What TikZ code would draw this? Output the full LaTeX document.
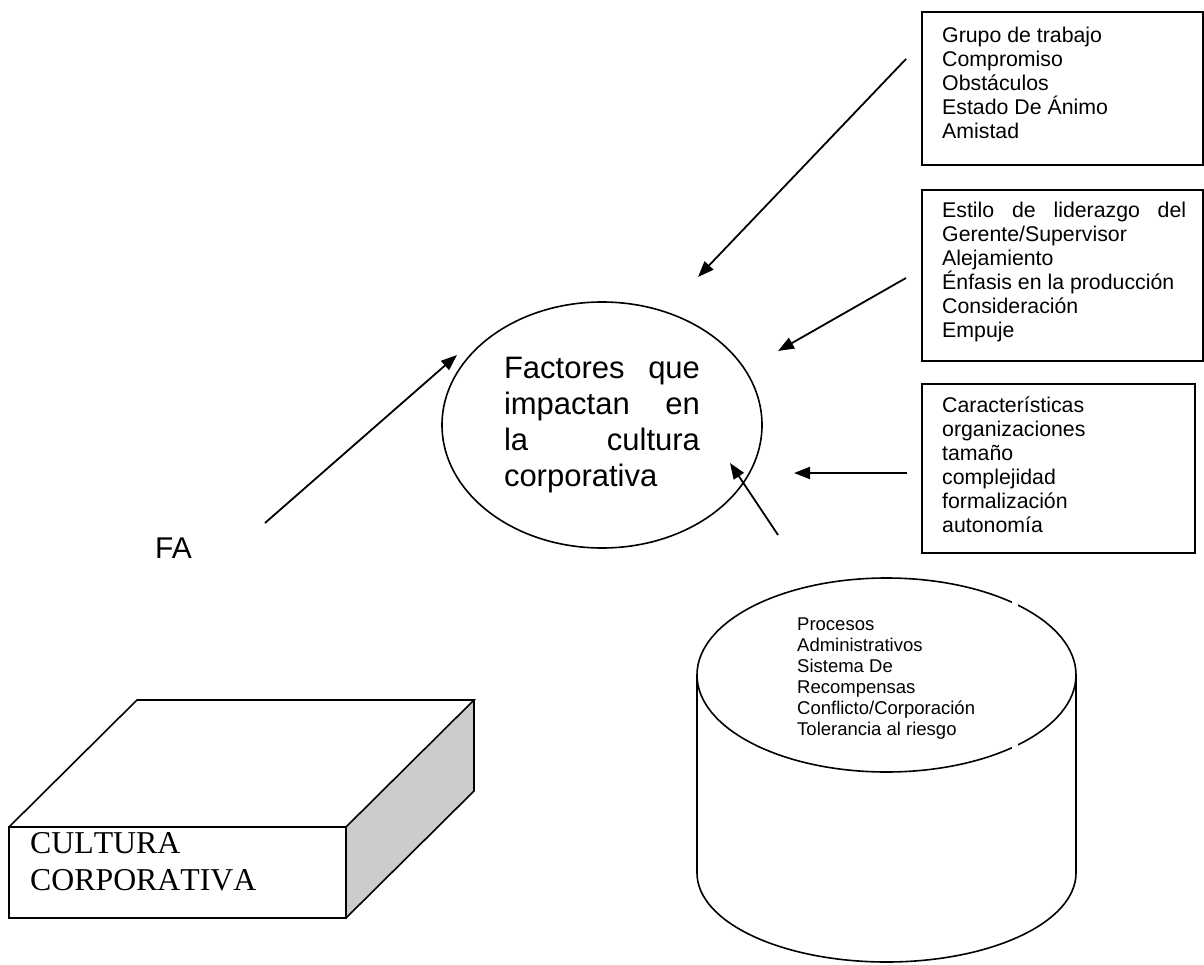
\documentclass[tikz,border=0pt]{standalone}
\usepackage{fontspec}
\setmainfont{Liberation Sans}
\newfontfamily\timesfont[Kerning=Off]{Liberation Serif}
\usetikzlibrary{arrows.meta,shapes.geometric}
\newcommand\boxfont{\fontsize{21.3}{24}\selectfont}
\newcommand\ellfont{\fontsize{31}{36}\selectfont}
\newcommand\cylfont{\fontsize{18.5}{21}\selectfont}
\newcommand\cubefont{\timesfont\fontsize{31.8}{37}\selectfont}
\begin{document}
\begin{tikzpicture}[x=1pt,y=-1pt,
  conn/.style={line width=1.8pt,-{Triangle[length=16pt,width=12pt]}},
  boxshape/.style={draw,line width=1.6pt,rectangle,anchor=north west,inner sep=0pt},
  txt/.style={anchor=north west,inner sep=0pt,align=left},
  shapeline/.style={line width=1.6pt,line join=miter}]
\useasboundingbox (0,0) rectangle (1204,965);

% boxes on the right
\node[boxshape,minimum width=281pt,minimum height=153pt] (b1) at (921,11) {};
\node[boxshape,minimum width=281pt,minimum height=171pt] (b2) at (921,189) {};
\node[boxshape,minimum width=273pt,minimum height=169pt] (b3) at (921,383) {};

\node[txt,font=\boxfont] (t1) at (942,25.2)
  {\strut Grupo de trabajo\\Compromiso\\Obstáculos\\Estado De Ánimo\\Amistad};
\node[txt,font=\boxfont,text width=244pt,align=justify] (t2) at (942,200.2)
  {\strut Estilo\hfill de\hfill liderazgo\hfill del\\Gerente/Supervisor\\Alejamiento\\Énfasis en la producción\\Consideración\\Empuje};
\node[txt,font=\boxfont] (t3) at (942,395.2)
  {\strut Características\\organizaciones\\tamaño\\complejidad\\formalización\\autonomía};

% central ellipse
\node[draw,ellipse,line width=1.6pt,minimum width=320pt,minimum height=246pt,
      inner sep=0pt,text width=196pt,align=justify,font=\ellfont] (fac) at (602,425)
  {\strut Factores\hfill que\\impactan\hfill en\\la\hfill cultura\\corporativa\strut};

% FA
\node[anchor=base west,inner sep=0pt,font=\fontsize{30}{36}\selectfont] (fa) at (155,558) {FA};

% arrows
\coordinate (a1s) at (906,59);  \coordinate (a1e) at (698,277);
\coordinate (a2s) at (906,278); \coordinate (a2e) at (778,351);
\coordinate (a3s) at (907,473); \coordinate (a3e) at (794,473);
\coordinate (a4s) at (778,535); \coordinate (a4e) at (730,463);
\coordinate (a5s) at (265,523); \coordinate (a5e) at (457,355);
\draw[conn] (a1s) -- (a1e);
\draw[conn] (a2s) -- (a2e);
\draw[conn] (a3s) -- (a3e);
\draw[conn] (a4s) -- (a4e);
\draw[conn] (a5s) -- (a5e);

% cube
\fill[gray!40] (346,827) -- (474,700) -- (474,791) -- (346,918) -- cycle;
\draw[shapeline] (9,827) rectangle (346,918);
\draw[shapeline] (9,827) -- (137,700) -- (474,700) -- (346,827);
\draw[shapeline] (474,700) -- (474,791) -- (346,918);
\node[txt,font=\cubefont] (cube) at (30,827.1) {\strut CULTURA\\CORPORATIVA};

% cylinder
\draw[shapeline] (697,675) -- (697,873) arc[start angle=180,end angle=0,x radius=189.5,y radius=89] -- (1076,675);
\draw[shapeline] (886.5,675) ellipse[x radius=189.5,y radius=97];
\fill[white] (1012,594) rectangle (1018,611);
\fill[white] (1012,739) rectangle (1018,755);
\node[txt,font=\cylfont] (cyl) at (797,615.3)
  {\strut Procesos\\Administrativos\\Sistema De\\Recompensas\\Conflicto/Corporación\\Tolerancia al riesgo};
\end{tikzpicture}
\end{document}
